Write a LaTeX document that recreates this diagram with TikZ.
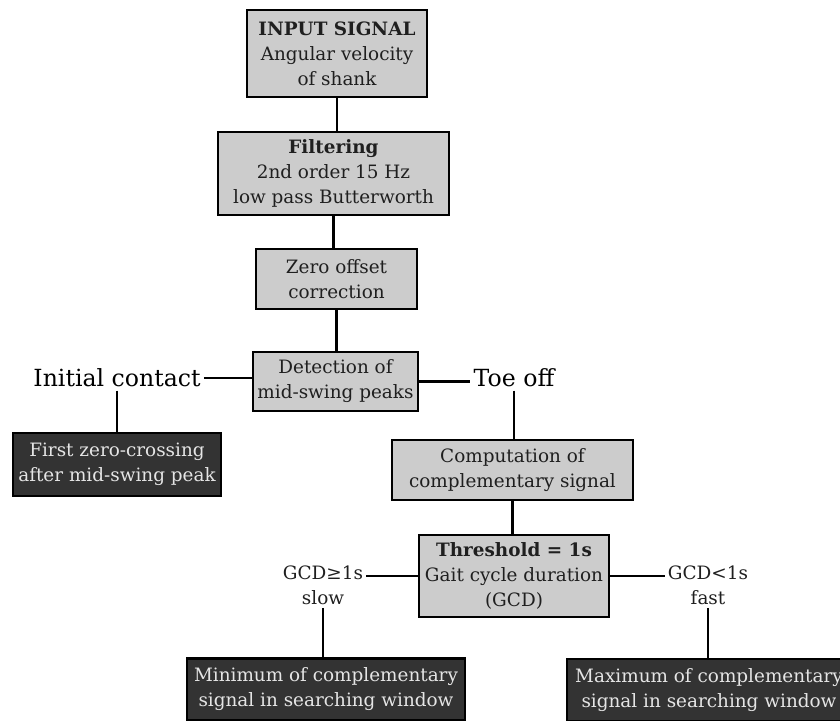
\documentclass[tikz,border=0pt]{standalone}
\usepackage{fontspec}
\setmainfont{DejaVu Serif}
\usetikzlibrary{positioning}
\begin{document}
\begin{tikzpicture}[x=0.5pt, y=-0.5pt, line width=1.4pt,
  every node/.style={font=\fontsize{9.2}{12.5}\selectfont, align=center, text=black!88},
  lightbox/.style={draw=black, fill=black!20, inner sep=0pt},
  darkbox/.style={draw=black, fill=black!80, text=white!90!black, inner sep=0pt},
  bigtext/.style={font=\fontsize{11.8}{16}\selectfont, text=black, inner sep=1pt},
  gcdtext/.style={inner sep=1pt}]
\useasboundingbox (0,0) rectangle (840,720);
\node[lightbox, minimum width=90pt, minimum height=43.5pt] (input) at (337,53.5) {\textbf{INPUT SIGNAL}\\Angular velocity\\of shank};
\node[lightbox, minimum width=115.5pt, minimum height=41.5pt] (filter) at (333.5,173.5) {\textbf{Filtering}\\2nd order 15 Hz\\low pass Butterworth};
\node[lightbox, minimum width=80.5pt, minimum height=30pt] (zero) at (336.5,279) {Zero offset\\correction};
\node[lightbox, minimum width=82.5pt, minimum height=29.5pt] (detect) at (335.5,381.5) {Detection of\\mid-swing peaks};
\node[bigtext] (ic) at (117,378) {Initial contact};
\node[bigtext] (toe) at (514,378) {Toe off};
\node[darkbox, minimum width=104pt, minimum height=31.5pt] (first) at (117,464.5) {First zero-crossing\\after mid-swing peak};
\node[lightbox, minimum width=120.5pt, minimum height=30pt] (comp) at (512.5,470) {Computation of\\complementary signal};
\node[lightbox, minimum width=95pt, minimum height=41pt] (thr) at (514,576) {\textbf{Threshold = 1s}\\Gait cycle duration\\(GCD)};
\node[gcdtext] (slow) at (323,585) {GCD≥1s\\slow};
\node[gcdtext] (fast) at (708,585) {GCD<1s\\fast};
\node[darkbox, minimum width=139pt, minimum height=31pt] (min) at (326,689.5) {Minimum of complementary\\signal in searching window};
\node[darkbox, minimum width=142pt, minimum height=31pt] (max) at (709,690) {Maximum of complementary\\signal in searching window};

\draw (input.south) -- (input.south |- filter.north);
\draw (filter.south) -- (filter.south |- zero.north);
\draw (zero.south) -- (zero.south |- detect.north);
\draw (ic.east) -- (ic.east -| detect.west);
\draw (detect.east) -- (detect.east -| toe.west);
\draw (ic.south) -- (ic.south |- first.north);
\draw (toe.south) -- (toe.south |- comp.north);
\draw (comp.south) -- (comp.south |- thr.north);
\draw (thr.west) -- (thr.west -| slow.east);
\draw (thr.east) -- (thr.east -| fast.west);
\draw (slow.south) -- (slow.south |- min.north);
\draw (fast.south) -- (fast.south |- max.north);
\end{tikzpicture}
\end{document}
